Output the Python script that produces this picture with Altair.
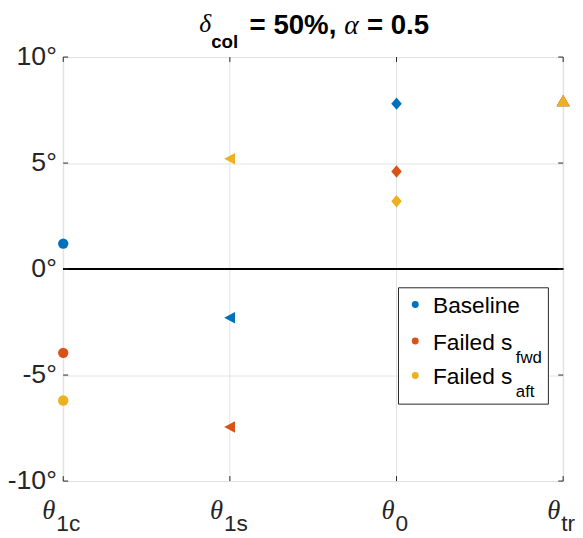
import altair as alt
import pandas as pd

# ---------------- data ----------------
categories = ["θ1c", "θ1s", "θ0", "θtr"]
cat_subscripts = ["1c", "1s", "0", "tr"]
series_names = ["Baseline", "Failed s_fwd", "Failed s_aft"]
series_main = ["Baseline", "Failed s", "Failed s"]
series_sub = ["", "fwd", "aft"]
series_colors = ["#0072BD", "#D95319", "#EDB120"]
baseline_vals = [1.2, -2.3, 7.8, 7.95]
failed_fwd_vals = [-3.95, -7.45, 4.6, 7.95]
failed_aft_vals = [-6.2, 5.2, 3.2, 7.95]
y_tick_values = [-10, -5, 0, 5, 10]
title_parts = ["δ", "col", "= 50%,", "α", "= 0.5"]

# ---------------- layout / style ----------------
W, H = 507, 430
FONT = "Liberation Sans"
SERIF = "Liberation Serif"
AX = "#262626"
GRID = "#e3e3e3"
label_dx = {"1c": -8, "1s": -7, "0": -2, "tr": -3}
# marker shapes (MATLAB-like): circle, left triangle, tall diamond, up triangle
cat_shapes = ["circle",
              "M-1,0L0.9,-1L0.9,1Z",
              "M0,-1L0.85,0L0,1L-0.85,0Z",
              "M0,-0.85L1,0.85L-1,0.85Z"]
cat_sizes = [110, 180, 260, 230]

rows = []
for name, vals in zip(series_names, [baseline_vals, failed_fwd_vals, failed_aft_vals]):
    for c, v in zip(categories, vals):
        rows.append({"cat": c, "series": name, "value": v})
df = pd.DataFrame(rows)
cat_df = pd.DataFrame({"cat": categories, "sub": cat_subscripts})
ytick_df = pd.DataFrame({"value": y_tick_values})

xscale = alt.Scale(type="point", domain=categories, padding=0)
yscale = alt.Scale(domain=[-10, 10], nice=False, zero=False)
X = alt.X("cat:N", scale=xscale, axis=None)

# x grid lines
xgrid = alt.Chart(cat_df).mark_rule(color=GRID, strokeWidth=1).encode(x=X)

# y axis (labels + grid)
yaxis = alt.Chart(ytick_df).mark_rule(opacity=0).encode(
    y=alt.Y("value:Q", scale=yscale,
            axis=alt.Axis(values=y_tick_values, labelExpr="datum.value + '°'",
                          grid=True, gridColor=GRID, ticks=False, domain=False,
                          labelFont=FONT, labelFontSize=27, labelColor=AX,
                          labelPadding=7, title=None))
)

# zero line
zero = alt.Chart(ytick_df).mark_rule(color="black", strokeWidth=1.5).encode(
    y=alt.Y(datum=0, scale=yscale)
)

# ticks (inside, on all four sides)
xt_bot = alt.Chart(cat_df).mark_rule(color=AX).encode(x=X, y=alt.value(H), y2=alt.value(H - 5))
xt_top = alt.Chart(cat_df).mark_rule(color=AX).encode(x=X, y=alt.value(0), y2=alt.value(5))
yt_left = alt.Chart(ytick_df).mark_rule(color=AX).encode(
    y=alt.Y("value:Q", scale=yscale), x=alt.value(0), x2=alt.value(5))
yt_right = alt.Chart(ytick_df).mark_rule(color=AX).encode(
    y=alt.Y("value:Q", scale=yscale), x=alt.value(W - 5), x2=alt.value(W))

# data points
points = alt.Chart(df).mark_point(filled=True, opacity=1, strokeWidth=0).encode(
    x=X,
    y=alt.Y("value:Q", scale=yscale),
    color=alt.Color("series:N", scale=alt.Scale(domain=series_names, range=series_colors), legend=None),
    shape=alt.Shape("cat:N", scale=alt.Scale(domain=categories, range=cat_shapes), legend=None),
    size=alt.Size("cat:N", scale=alt.Scale(domain=categories, range=cat_sizes), legend=None),
)

layers = [xgrid, yaxis, zero, points, xt_bot, xt_top, yt_left, yt_right]

# x tick labels: theta + subscript
for c, s in zip(categories, cat_subscripts):
    d = label_dx[s]
    base = alt.Chart(cat_df).transform_filter(alt.datum.cat == c)
    layers.append(base.mark_text(text="θ", font=SERIF, fontStyle="italic", fontSize=27,
                                 align="right", baseline="alphabetic", dx=d, color=AX)
                  .encode(x=X, y=alt.value(H + 38)))
    layers.append(base.mark_text(font=FONT, fontSize=23, align="left", baseline="alphabetic",
                                 dx=d + 1, color=AX)
                  .encode(x=X, y=alt.value(H + 51), text="sub:N"))

# title (pieces, TeX-like)
t_specs = [
    (title_parts[0], SERIF, "italic", "normal", 26, 138, -25),
    (title_parts[1], FONT, "normal", "bold", 19, 150, -9),
    (title_parts[2], FONT, "normal", "bold", 28, 189, -23),
    (title_parts[3], SERIF, "italic", "normal", 28, 285, -23),
    (title_parts[4], FONT, "normal", "bold", 28, 308, -23),
]
for txt, fnt, fst, fw, fs, px, py in t_specs:
    layers.append(alt.Chart(cat_df.head(1)).mark_text(text=txt, font=fnt, fontStyle=fst, fontWeight=fw,
                                                      fontSize=fs, align="left", baseline="alphabetic",
                                                      color="black")
                  .encode(x=alt.value(px), y=alt.value(py)))

# legend box
LX0, LY0, LX1, LY1 = 340, 234, 492, 352
layers.append(alt.Chart(cat_df.head(1)).mark_rect(fill="white", stroke=AX, strokeWidth=1)
              .encode(x=alt.value(LX0), x2=alt.value(LX1), y=alt.value(LY0), y2=alt.value(LY1)))
row_y = [251, 288, 323]
for i, (nm, main, sub, col) in enumerate(zip(series_names, series_main, series_sub, series_colors)):
    ldf = pd.DataFrame({"series": [nm], "main": [main], "sub": [sub]})
    layers.append(alt.Chart(ldf).mark_point(filled=True, opacity=1, shape="circle", size=49, color=col)
                  .encode(x=alt.value(357), y=alt.value(row_y[i])))
    layers.append(alt.Chart(ldf).mark_text(font=FONT, fontSize=23, align="left", baseline="alphabetic",
                                           color="black")
                  .encode(x=alt.value(375), y=alt.value(row_y[i] + 9), text="main:N"))
    if sub:
        layers.append(alt.Chart(ldf).mark_text(font=FONT, fontSize=17, align="left",
                                               baseline="alphabetic", color="black")
                      .encode(x=alt.value(459), y=alt.value(row_y[i] + 22), text="sub:N"))

chart = alt.layer(*layers).properties(
    width=W, height=H,
    autosize=alt.AutoSizeParams(type="none"),
    padding={"left": 56, "top": 46, "right": 12, "bottom": 54},
).configure_view(stroke=AX, strokeWidth=1).configure(background="white")

chart.save("out.html", embed_options={"renderer": "svg", "actions": False})
